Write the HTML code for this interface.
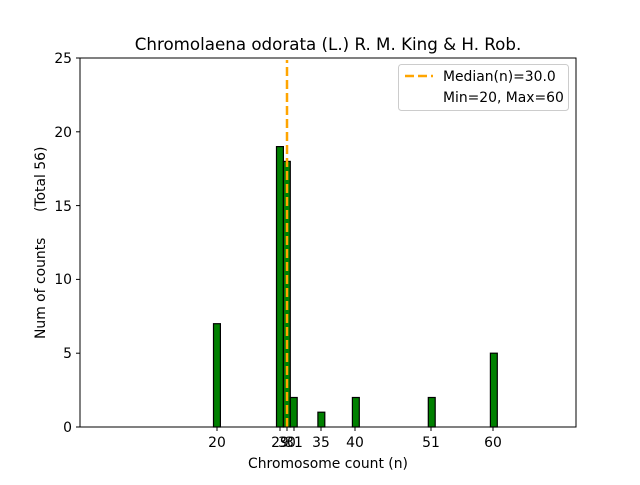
<!DOCTYPE html><html><head><style>body{margin:0;background:#fff}svg{font-family:"DejaVu Sans","Liberation Sans",sans-serif}</style></head><body>
<svg width="640" height="480" xmlns="http://www.w3.org/2000/svg">
<rect width="640" height="480" fill="#fff"/>
<text x="328" y="50" font-size="16.7" text-anchor="middle">Chromolaena odorata (L.) R. M. King &amp; H. Rob.</text>
<g fill="#008000" stroke="#000" stroke-width="1.2">
<rect x="213.5" y="323.7" width="6.9" height="103.3"/>
<rect x="276.5" y="146.6" width="6.9" height="280.4"/>
<rect x="283.4" y="161.4" width="6.9" height="265.6"/>
<rect x="290.3" y="397.5" width="6.9" height="29.5"/>
<rect x="317.9" y="412.2" width="6.9" height="14.8"/>
<rect x="352.4" y="397.5" width="6.9" height="29.5"/>
<rect x="428.3" y="397.5" width="6.9" height="29.5"/>
<rect x="490.4" y="353.2" width="6.9" height="73.8"/>
</g>
<line x1="287" y1="427" x2="287" y2="60" stroke="#ffa500" stroke-width="2.5" stroke-dasharray="9,4"/>
<rect x="80" y="58" width="496" height="369" fill="none" stroke="#000" stroke-width="1"/>
<g stroke="#000">
<line x1="80" y1="427" x2="76" y2="427"/><line x1="80" y1="353.2" x2="76" y2="353.2"/><line x1="80" y1="279.4" x2="76" y2="279.4"/><line x1="80" y1="205.6" x2="76" y2="205.6"/><line x1="80" y1="131.8" x2="76" y2="131.8"/><line x1="80" y1="58" x2="76" y2="58"/>
<line x1="217" y1="427" x2="217" y2="431"/><line x1="280" y1="427" x2="280" y2="431"/><line x1="287" y1="427" x2="287" y2="431"/><line x1="294" y1="427" x2="294" y2="431"/><line x1="321" y1="427" x2="321" y2="431"/><line x1="355" y1="427" x2="355" y2="431"/><line x1="431" y1="427" x2="431" y2="431"/><line x1="493" y1="427" x2="493" y2="431"/>
</g>
<g font-size="13.9" text-anchor="end">
<text x="72" y="432">0</text><text x="72" y="358">5</text><text x="72" y="284">10</text><text x="72" y="211">15</text><text x="72" y="137">20</text><text x="72" y="63">25</text>
</g>
<g font-size="13.9" text-anchor="middle">
<text x="217" y="447">20</text><text x="280" y="447">29</text><text x="287" y="447">30</text><text x="294" y="447">31</text><text x="321" y="447">35</text><text x="355" y="447">40</text><text x="431" y="447">51</text><text x="493" y="447">60</text>
</g>
<text x="328" y="468" font-size="13.9" text-anchor="middle">Chromosome count (n)</text>
<text transform="translate(45,339) rotate(-90)" font-size="13.9">Num of counts</text>
<text transform="translate(45,212) rotate(-90)" font-size="13.9">(Total 56)</text>
<rect x="398.5" y="64.5" width="170" height="46" rx="3" fill="#fff" stroke="#ccc"/>
<line x1="405" y1="76" x2="433" y2="76" stroke="#ffa500" stroke-width="2.5" stroke-dasharray="9,4"/>
<text x="443" y="81" font-size="13.9">Median(n)=30.0</text>
<text x="443" y="102" font-size="13.9">Min=20, Max=60</text>
</svg></body></html>
